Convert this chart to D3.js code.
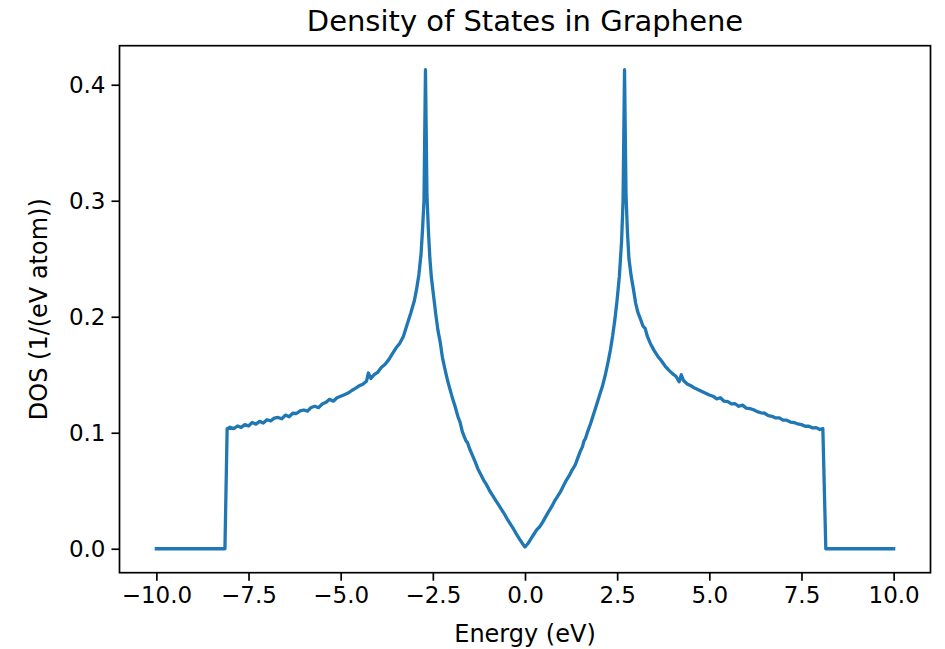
<!DOCTYPE html>
<html>
<head>
<meta charset="utf-8">
<script src="https://cdn.jsdelivr.net/npm/d3@7"></script>
<style>
  html, body { margin: 0; padding: 0; background: #fff; }
  svg { display: block; font-family: "DejaVu Sans", sans-serif; }
</style>
</head>
<body>
<svg id="chart" width="945" height="649"></svg>
<script>
// ---- Data ----
const energyLeft = [-10.0, -8.14, -8.08, -8.0, -7.9, -7.8, -7.7, -7.6, -7.5, -7.4, -7.3, -7.2, -7.1, -7.0,
  -6.9, -6.8, -6.7, -6.6, -6.5, -6.4, -6.3, -6.2, -6.1, -6.0, -5.9, -5.8, -5.7, -5.6, -5.5, -5.4, -5.3,
  -5.2, -5.1, -5.0, -4.9, -4.8, -4.7, -4.6, -4.5, -4.4, -4.3, -4.25, -4.18, -4.1, -4.0, -3.9, -3.8, -3.7,
  -3.6, -3.5, -3.4, -3.3, -3.2, -3.1, -3.0, -2.94, -2.88, -2.82, -2.78, -2.74, -2.70, -2.66, -2.62, -2.58,
  -2.54, -2.48, -2.42, -2.36, -2.3, -2.24, -2.18, -2.1, -2.04, -1.96, -1.9, -1.82, -1.76, -1.7, -1.64,
  -1.6, -1.56, -1.5, -1.42, -1.34, -1.28, -1.2, -1.12, -1.04, -0.96, -0.88, -0.8, -0.72, -0.64, -0.56,
  -0.48, -0.4, -0.32, -0.24, -0.16, -0.08, 0.0];
const dosLeft = [0, 0, 0.1035, 0.1048, 0.1036, 0.1058, 0.1046, 0.1070, 0.1058, 0.1088, 0.1074, 0.1098, 0.1084, 0.1112,
  0.1102, 0.1126, 0.1132, 0.1120, 0.1152, 0.1138, 0.1168, 0.1166, 0.1188, 0.1196, 0.1186, 0.1218, 0.1228, 0.1216, 0.1248, 0.1262, 0.1288,
  0.1272, 0.1302, 0.1315, 0.1328, 0.1342, 0.1364, 0.1382, 0.1404, 0.1418, 0.1444, 0.1515, 0.1468, 0.1498, 0.1520, 0.1562, 0.1588, 0.1628,
  0.1680, 0.1730, 0.1770, 0.1830, 0.1930, 0.2030, 0.2140, 0.2240, 0.2360, 0.2540, 0.2750, 0.3000, 0.4130, 0.3050, 0.2740, 0.2500,
  0.2340, 0.2180, 0.2020, 0.1880, 0.1780, 0.1650, 0.1560, 0.1450, 0.1380, 0.1290, 0.1230, 0.1140, 0.1090, 0.1010, 0.0960,
  0.0930, 0.0915, 0.0860, 0.0800, 0.0740, 0.0690, 0.0640, 0.0590, 0.0550, 0.0500, 0.0460, 0.0420, 0.0380, 0.0340, 0.0300,
  0.0255, 0.0215, 0.0175, 0.0130, 0.0090, 0.0050, 0.0015];

const energyRight = [0.08, 0.16, 0.24, 0.32, 0.4, 0.48, 0.56, 0.64, 0.72, 0.8, 0.88, 0.96, 1.04, 1.12, 1.2, 1.28,
  1.36, 1.44, 1.5, 1.56, 1.6, 1.64, 1.7, 1.78, 1.86, 1.94, 2.02, 2.1, 2.18, 2.26, 2.32, 2.38, 2.44, 2.5, 2.56,
  2.62, 2.66, 2.70, 2.74, 2.78, 2.82, 2.88, 2.94, 3.0, 3.06, 3.12, 3.2, 3.26, 3.32, 3.4, 3.5, 3.6, 3.7, 3.8,
  3.9, 4.0, 4.1, 4.18, 4.24, 4.3, 4.4, 4.5, 4.6, 4.7, 4.8, 4.9, 5.0, 5.1, 5.2, 5.3, 5.4, 5.5, 5.6, 5.7, 5.8,
  5.9, 6.0, 6.1, 6.2, 6.3, 6.4, 6.5, 6.6, 6.7, 6.8, 6.9, 7.0, 7.1, 7.2, 7.3, 7.4, 7.5, 7.6, 7.7, 7.8, 7.9,
  8.0, 8.08, 8.16, 10.0];
const dosRight = [0.0045, 0.0085, 0.0125, 0.0165, 0.0190, 0.0230, 0.0275, 0.0320, 0.0360, 0.0410, 0.0450, 0.0490, 0.0540, 0.0590, 0.0630, 0.0680,
  0.0720, 0.0790, 0.0840, 0.0880, 0.0930, 0.0950, 0.1010, 0.1080, 0.1160, 0.1240, 0.1320, 0.1400, 0.1500, 0.1620, 0.1720, 0.1840, 0.1980, 0.2150, 0.2350,
  0.2650, 0.3000, 0.4130, 0.3050, 0.2720, 0.2500, 0.2350, 0.2240, 0.2120, 0.2040, 0.1990, 0.1920, 0.1900, 0.1830, 0.1770, 0.1710, 0.1660, 0.1620, 0.1575,
  0.1540, 0.1510, 0.1485, 0.1440, 0.1500, 0.1450, 0.1420, 0.1405, 0.1385, 0.1370, 0.1355, 0.1340, 0.1325, 0.1315, 0.1292, 0.1302, 0.1272, 0.1268, 0.1248, 0.1250, 0.1228,
  0.1238, 0.1212, 0.1208, 0.1198, 0.1182, 0.1172, 0.1168, 0.1148, 0.1142, 0.1128, 0.1128, 0.1108, 0.1108, 0.1092, 0.1088, 0.1076, 0.1070, 0.1056, 0.1056, 0.1042, 0.1044,
  0.1028, 0.1035, 0, 0];

const xTicks = [-10.0, -7.5, -5.0, -2.5, 0.0, 2.5, 5.0, 7.5, 10.0];
const yTicks = [0.0, 0.1, 0.2, 0.3, 0.4];
const titleText = "Density of States in Graphene";
const xLabelText = "Energy (eV)";
const yLabelText = "DOS (1/(eV atom))";

// ---- Build series ----
const energy = energyLeft.concat(energyRight);
const dos = dosLeft.concat(dosRight);
const points = energy.map((e, i) => ({ e: e, d: dos[i] }));

// ---- Layout ----
const svg = d3.select("#chart");
const plot = { left: 119.5, right: 930.5, top: 45.7, bottom: 572.7 };

const xExt = d3.extent(energy);
const xPad = 0.05 * (xExt[1] - xExt[0]);
const yExt = d3.extent(dos);
const yPad = 0.05 * (yExt[1] - yExt[0]);

const x = d3.scaleLinear().domain([xExt[0] - xPad, xExt[1] + xPad]).range([plot.left, plot.right]);
const y = d3.scaleLinear().domain([yExt[0] - yPad, yExt[1] + yPad]).range([plot.bottom, plot.top]);

const fmt = v => d3.format(".1f")(v).replace("-", "\u2212");
const fontSize = 23;
const labelSize = 24;

// Line
const line = d3.line().x(d => x(d.e)).y(d => y(d.d));
svg.append("path")
  .datum(points)
  .attr("fill", "none")
  .attr("stroke", "#1f77b4")
  .attr("stroke-width", 3.3)
  .attr("stroke-linejoin", "round")
  .attr("stroke-linecap", "square")
  .attr("d", line);

// Axes
const xAxis = d3.axisBottom(x).tickValues(xTicks).tickFormat(fmt).tickSize(8).tickPadding(6);
const yAxis = d3.axisLeft(y).tickValues(yTicks).tickFormat(fmt).tickSize(8).tickPadding(6);

const gx = svg.append("g").attr("transform", `translate(0,${plot.bottom})`).call(xAxis);
const gy = svg.append("g").attr("transform", `translate(${plot.left},0)`).call(yAxis);
[gx, gy].forEach(g => {
  g.select(".domain").remove();
  g.selectAll(".tick line").attr("stroke", "#000").attr("stroke-width", 1.7);
  g.selectAll(".tick text")
    .attr("fill", "#000")
    .style("font-family", "DejaVu Sans, sans-serif")
    .style("font-size", fontSize + "px");
});

// Frame (spines)
svg.append("rect")
  .attr("x", plot.left).attr("y", plot.top)
  .attr("width", plot.right - plot.left).attr("height", plot.bottom - plot.top)
  .attr("fill", "none").attr("stroke", "#000").attr("stroke-width", 1.7);

// Title and labels
svg.append("text")
  .attr("x", (plot.left + plot.right) / 2).attr("y", 31)
  .attr("text-anchor", "middle")
  .style("font-size", "29px")
  .attr("fill", "#000")
  .text(titleText);

svg.append("text")
  .attr("x", (plot.left + plot.right) / 2).attr("y", 642)
  .attr("text-anchor", "middle")
  .style("font-size", labelSize + "px")
  .attr("fill", "#000")
  .text(xLabelText);

svg.append("text")
  .attr("transform", `translate(47,${(plot.top + plot.bottom) / 2}) rotate(-90)`)
  .attr("text-anchor", "middle")
  .style("font-size", labelSize + "px")
  .attr("fill", "#000")
  .text(yLabelText);
</script>
</body>
</html>
